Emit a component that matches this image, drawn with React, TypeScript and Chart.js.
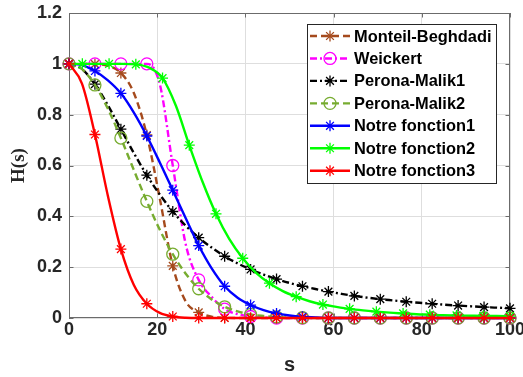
import React, { useEffect, useRef } from "react";
import { Chart, registerables } from "chart.js";

Chart.register(...registerables);

// Sample positions along s (shared grid, and the grid used by "Notre fonction2")
const sValues = [
  0, 2.941, 5.882, 8.824, 11.765, 14.706, 17.647, 20.588, 23.529, 26.471, 29.412, 32.353,
  35.294, 38.235, 41.176, 44.118, 47.059, 50, 52.941, 55.882, 58.824, 61.765, 64.706,
  67.647, 70.588, 73.529, 76.471, 79.412, 82.353, 85.294, 88.235, 91.176, 94.118, 97.059, 100,
];
const sValuesFn2 = [
  0, 3.03, 6.061, 9.091, 12.121, 15.152, 18.182, 21.212, 24.242, 27.273, 30.303, 33.333,
  36.364, 39.394, 42.424, 45.455, 48.485, 51.515, 54.545, 57.576, 60.606, 63.636, 66.667,
  69.697, 72.727, 75.758, 78.788, 81.818, 84.848, 87.879, 90.909, 93.939, 96.97, 100,
];

// H(s) for each diffusion function
const monteilBeghdadi = [
  1, 1, 0.999, 0.992, 0.964, 0.885, 0.72, 0.47, 0.205, 0.065, 0.022, 0.005, 0.001, 0, 0,
  0, 0, 0, 0, 0, 0, 0, 0, 0, 0, 0, 0, 0, 0, 0, 0, 0, 0, 0, 0,
];
const weickert = [
  1, 1, 1, 1, 1, 1, 1, 0.92, 0.6, 0.29, 0.15, 0.083, 0.035, 0.015, 0.006, 0.002, 0, 0, 0,
  0, 0, 0, 0, 0, 0, 0, 0, 0, 0, 0, 0, 0, 0, 0, 0,
];
const peronaMalik1 = [
  1, 0.979, 0.92, 0.837, 0.743, 0.649, 0.562, 0.486, 0.419, 0.363, 0.316, 0.277, 0.243,
  0.215, 0.191, 0.171, 0.153, 0.138, 0.125, 0.114, 0.104, 0.095, 0.087, 0.08, 0.074, 0.069,
  0.064, 0.06, 0.056, 0.052, 0.049, 0.046, 0.043, 0.041, 0.038,
];
const peronaMalik2 = [
  1, 0.979, 0.917, 0.823, 0.708, 0.582, 0.459, 0.347, 0.251, 0.174, 0.115, 0.073, 0.044,
  0.026, 0.014, 0.008, 0.004, 0.002, 0.001, 0, 0, 0, 0, 0, 0, 0, 0, 0, 0, 0, 0, 0, 0, 0, 0,
];
const notreFonction1 = [
  1, 0.995, 0.972, 0.935, 0.884, 0.808, 0.716, 0.612, 0.503, 0.392, 0.285, 0.195, 0.125,
  0.08, 0.051, 0.031, 0.018, 0.01, 0.005, 0.002, 0, 0, 0, 0, 0, 0, 0, 0, 0, 0, 0, 0, 0, 0, 0,
];
const notreFonction2 = [
  1, 1, 1, 1, 1, 0.998, 0.985, 0.944, 0.835, 0.68, 0.535, 0.41, 0.31, 0.235, 0.178, 0.137,
  0.106, 0.084, 0.066, 0.053, 0.044, 0.036, 0.03, 0.025, 0.021, 0.018, 0.015, 0.013, 0.011,
  0.01, 0.009, 0.008, 0.008, 0.007,
];
const notreFonction3 = [
  1, 0.922, 0.722, 0.48, 0.271, 0.13, 0.056, 0.02, 0.006, 0.001, 0, 0, 0, 0, 0, 0, 0, 0, 0,
  0, 0, 0, 0, 0, 0, 0, 0, 0, 0, 0, 0, 0, 0, 0, 0,
];

const seriesLabels = [
  "Monteil-Beghdadi",
  "Weickert",
  "Perona-Malik1",
  "Perona-Malik2",
  "Notre fonction1",
  "Notre fonction2",
  "Notre fonction3",
];

const xTicks = [0, 20, 40, 60, 80, 100];
const yTicks = [0, 0.2, 0.4, 0.6, 0.8, 1, 1.2];

type MarkerKind = "star" | "circle";
interface SeriesStyle {
  color: string;
  dash: number[];
  marker: MarkerKind;
  markerOffset: number;
}

const DASHED = [7, 4];
const DASH_DOT = [7, 3, 2, 3];

const seriesStyles: SeriesStyle[] = [
  { color: "#a54a1d", dash: DASHED, marker: "star", markerOffset: 0 },
  { color: "#ff00ff", dash: DASH_DOT, marker: "circle", markerOffset: 0 },
  { color: "#000000", dash: DASH_DOT, marker: "star", markerOffset: 0 },
  { color: "#77ac30", dash: DASHED, marker: "circle", markerOffset: 0 },
  { color: "#0000ff", dash: [], marker: "star", markerOffset: 0 },
  { color: "#00ff00", dash: [], marker: "star", markerOffset: 1 },
  { color: "#ff0000", dash: [], marker: "star", markerOffset: 0 },
];

const seriesX = [sValues, sValues, sValues, sValues, sValues, sValuesFn2, sValues];
const seriesY = [
  monteilBeghdadi,
  weickert,
  peronaMalik1,
  peronaMalik2,
  notreFonction1,
  notreFonction2,
  notreFonction3,
];

const AXIS_COLOR = "#6b6b6b";
const TEXT_COLOR = "#262626";
const SANS = "'Liberation Sans', Arial, Helvetica, sans-serif";
const LINE_WIDTH = 2.4;
const MARKER_RADIUS: Record<MarkerKind, number> = { star: 5.5, circle: 6 };

function drawMarker(ctx: CanvasRenderingContext2D, kind: MarkerKind, x: number, y: number, color: string) {
  const r = MARKER_RADIUS[kind];
  ctx.save();
  ctx.setLineDash([]);
  ctx.strokeStyle = color;
  ctx.lineWidth = 1.3;
  ctx.beginPath();
  if (kind === "circle") {
    ctx.arc(x, y, r, 0, Math.PI * 2);
  } else {
    const d = r * Math.SQRT1_2;
    ctx.moveTo(x - r, y);
    ctx.lineTo(x + r, y);
    ctx.moveTo(x, y - r);
    ctx.lineTo(x, y + r);
    ctx.moveTo(x - d, y - d);
    ctx.lineTo(x + d, y + d);
    ctx.moveTo(x - d, y + d);
    ctx.lineTo(x + d, y - d);
  }
  ctx.stroke();
  ctx.restore();
}

// Axes box with inward tick marks on all four sides
const framePlugin = {
  id: "axesFrame",
  beforeDatasetsDraw(chart: Chart) {
    const { ctx, chartArea } = chart;
    const { left, right, top, bottom } = chartArea;
    const xs = chart.scales.x;
    const ys = chart.scales.y;
    const tick = 4.5;
    ctx.save();
    ctx.strokeStyle = AXIS_COLOR;
    ctx.lineWidth = 1;
    ctx.setLineDash([]);
    ctx.strokeRect(left + 0.5, top + 0.5, right - left - 1, bottom - top - 1);
    ctx.beginPath();
    xTicks.forEach((v) => {
      const px = Math.round(xs.getPixelForValue(v)) + 0.5;
      ctx.moveTo(px, bottom);
      ctx.lineTo(px, bottom - tick);
      ctx.moveTo(px, top);
      ctx.lineTo(px, top + tick);
    });
    yTicks.forEach((v) => {
      const py = Math.round(ys.getPixelForValue(v)) + 0.5;
      ctx.moveTo(left, py);
      ctx.lineTo(left + tick, py);
      ctx.moveTo(right, py);
      ctx.lineTo(right - tick, py);
    });
    ctx.stroke();
    ctx.restore();
  },
};

// Boxed legend in the upper right of the plot
const legendBoxPlugin = {
  id: "legendBox",
  afterDraw(chart: Chart) {
    const { ctx } = chart;
    const boxLeft = 307.5;
    const boxTop = 24.5;
    const boxWidth = 189;
    const boxHeight = 159;
    const rowTop = 36;
    const rowStep = 22.45;
    const lineStart = 310;
    const lineEnd = 350;
    const textX = 354;
    ctx.save();
    ctx.fillStyle = "#ffffff";
    ctx.fillRect(boxLeft, boxTop, boxWidth, boxHeight);
    ctx.strokeStyle = TEXT_COLOR;
    ctx.lineWidth = 1;
    ctx.strokeRect(boxLeft, boxTop, boxWidth, boxHeight);
    seriesLabels.forEach((label, i) => {
      const st = seriesStyles[i];
      const y = rowTop + i * rowStep;
      ctx.save();
      ctx.strokeStyle = st.color;
      ctx.lineWidth = LINE_WIDTH;
      ctx.setLineDash(st.dash);
      ctx.beginPath();
      ctx.moveTo(lineStart, y);
      ctx.lineTo(lineEnd, y);
      ctx.stroke();
      ctx.restore();
      drawMarker(ctx, st.marker, (lineStart + lineEnd) / 2, y, st.color);
      ctx.fillStyle = "#000000";
      ctx.font = `bold 16.4px ${SANS}`;
      ctx.textAlign = "left";
      ctx.textBaseline = "middle";
      ctx.fillText(label, textX, y + 1);
    });
    ctx.restore();
  },
};

export default function App() {
  const canvasRef = useRef<HTMLCanvasElement | null>(null);

  useEffect(() => {
    const canvas = canvasRef.current;
    if (!canvas) return;

    const datasets = seriesLabels.map((label, i) => {
      const st = seriesStyles[i];
      const xs = seriesX[i];
      const ys = seriesY[i];
      return {
        label,
        data: xs.map((x, k) => ({ x, y: ys[k] })),
        borderColor: st.color,
        backgroundColor: st.color,
        borderWidth: LINE_WIDTH,
        borderDash: st.dash,
        borderCapStyle: "butt" as const,
        cubicInterpolationMode: "monotone" as const,
        fill: false,
        pointStyle: st.marker === "star" ? "star" : "circle",
        pointRadius: ys.map((_, k) => (k % 2 === st.markerOffset ? MARKER_RADIUS[st.marker] : 0)),
        pointHoverRadius: 0,
        pointBorderColor: st.color,
        pointBackgroundColor: "rgba(0,0,0,0)",
        pointBorderWidth: 1.3,
        clip: false as const,
        order: seriesLabels.length - 1 - i,
      };
    });

    const chart = new Chart(canvas, {
      type: "line",
      data: { datasets: datasets as any },
      options: {
        animation: false,
        responsive: false,
        devicePixelRatio: 1,
        layout: { padding: { top: 13, right: 13, left: 0, bottom: 0 } },
        plugins: {
          legend: { display: false },
          tooltip: { enabled: false },
        },
        scales: {
          x: {
            type: "linear",
            min: 0,
            max: 100,
            afterBuildTicks: (scale: any) => {
              scale.ticks = xTicks.map((v) => ({ value: v }));
            },
            afterFit: (scale: any) => {
              scale.height = 59;
              scale.paddingLeft = 0;
              scale.paddingRight = 0;
            },
            ticks: {
              color: TEXT_COLOR,
              font: { family: SANS, size: 18, weight: "bold" },
              padding: 1,
              maxRotation: 0,
              autoSkip: false,
            },
            grid: { color: "#dedede", lineWidth: 1, drawTicks: false },
            border: { display: false },
            title: {
              display: true,
              text: "s",
              color: TEXT_COLOR,
              font: { family: SANS, size: 20, weight: "bold" },
              padding: { top: 0, bottom: 0 },
            },
          },
          y: {
            type: "linear",
            min: 0,
            max: 1.2,
            afterBuildTicks: (scale: any) => {
              scale.ticks = yTicks.map((v) => ({ value: v }));
            },
            afterFit: (scale: any) => {
              scale.width = 69;
              scale.paddingTop = 0;
              scale.paddingBottom = 0;
            },
            ticks: {
              color: TEXT_COLOR,
              font: { family: SANS, size: 18, weight: "bold" },
              padding: 7,
              autoSkip: false,
              callback: (v: any) => String(Math.round(Number(v) * 10) / 10),
            },
            grid: { color: "#dedede", lineWidth: 1, drawTicks: false },
            border: { display: false },
            title: {
              display: true,
              text: "H(s)",
              color: TEXT_COLOR,
              font: { family: "'Liberation Serif', 'Times New Roman', serif", size: 19, weight: "bold" },
              padding: { top: 8, bottom: 0 },
            },
          },
        },
      },
      plugins: [framePlugin, legendBoxPlugin],
    });

    return () => chart.destroy();
  }, []);

  return (
    <div style={{ position: "fixed", left: 0, top: 0, width: 523, height: 377, background: "#ffffff" }}>
      <canvas ref={canvasRef} width={523} height={377} style={{ display: "block" }} />
    </div>
  );
}
